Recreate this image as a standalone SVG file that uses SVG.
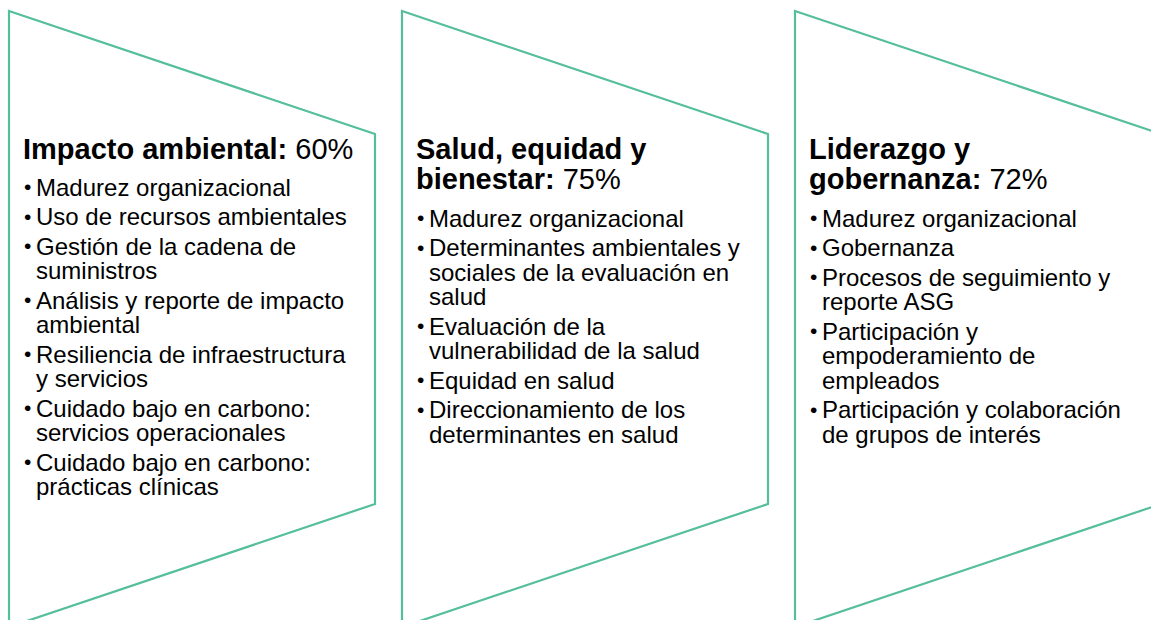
<svg xmlns="http://www.w3.org/2000/svg" width="1151" height="620" viewBox="0 0 1151 620">
<style>
.shape{fill:#ffffff;stroke:#55BE9A;stroke-width:2.2;stroke-linejoin:miter}
.t{font-family:"Liberation Sans",Arial,sans-serif;font-size:29px;fill:#000}
.b{font-weight:bold}
.i{font-family:"Liberation Sans",Arial,sans-serif;font-size:24px;fill:#000}
.d{font-family:"Liberation Sans",Arial,sans-serif;font-size:21px;fill:#000}
</style>
<rect width="1151" height="620" fill="#ffffff"/>
<g id="node-impacto">
<polygon class="shape" points="9,11 375,134 375,504 9,627"/>
<text class="t" x="23" y="158.5"><tspan class="b">Impacto ambiental:</tspan> 60%</text>
<g class="d"><text x="24" y="194">•</text><text x="24" y="223.5">•</text><text x="24" y="253">•</text><text x="24" y="307">•</text><text x="24" y="361">•</text><text x="24" y="415">•</text><text x="24" y="469">•</text></g>
<g class="i">
<text x="36" y="195.5">Madurez organizacional</text>
<text x="36" y="225">Uso de recursos ambientales</text>
<text x="36" y="254.5">Gestión de la cadena de</text>
<text x="36" y="279">suministros</text>
<text x="36" y="308.5">Análisis y reporte de impacto</text>
<text x="36" y="333">ambiental</text>
<text x="36" y="362.5">Resiliencia de infraestructura</text>
<text x="36" y="387">y servicios</text>
<text x="36" y="416.5">Cuidado bajo en carbono:</text>
<text x="36" y="441">servicios operacionales</text>
<text x="36" y="470.5">Cuidado bajo en carbono:</text>
<text x="36" y="495">prácticas clínicas</text>
</g>
</g>
<g id="node-salud">
<polygon class="shape" points="402,11 768,134 768,504 402,627"/>
<text class="t b" x="416" y="158.5">Salud, equidad y</text>
<text class="t" x="416" y="188.5"><tspan class="b">bienestar:</tspan> 75%</text>
<g class="d"><text x="417" y="225">•</text><text x="417" y="254.5">•</text><text x="417" y="333">•</text><text x="417" y="387">•</text><text x="417" y="416.5">•</text></g>
<g class="i">
<text x="429" y="226.5">Madurez organizacional</text>
<text x="429" y="256">Determinantes ambientales y</text>
<text x="429" y="280.5">sociales de la evaluación en</text>
<text x="429" y="305">salud</text>
<text x="429" y="334.5">Evaluación de la</text>
<text x="429" y="359">vulnerabilidad de la salud</text>
<text x="429" y="388.5">Equidad en salud</text>
<text x="429" y="418">Direccionamiento de los</text>
<text x="429" y="442.5">determinantes en salud</text>
</g>
</g>
<g id="node-liderazgo">
<polygon class="shape" points="795,11 1161,134 1161,504 795,627"/>
<text class="t b" x="809" y="158.5">Liderazgo y</text>
<text class="t" x="809" y="188.5"><tspan class="b">gobernanza:</tspan> 72%</text>
<g class="d"><text x="810" y="225">•</text><text x="810" y="254.5">•</text><text x="810" y="284">•</text><text x="810" y="338">•</text><text x="810" y="416.5">•</text></g>
<g class="i">
<text x="822" y="226.5">Madurez organizacional</text>
<text x="822" y="256">Gobernanza</text>
<text x="822" y="285.5">Procesos de seguimiento y</text>
<text x="822" y="310">reporte ASG</text>
<text x="822" y="339.5">Participación y</text>
<text x="822" y="364">empoderamiento de</text>
<text x="822" y="388.5">empleados</text>
<text x="822" y="418">Participación y colaboración</text>
<text x="822" y="442.5">de grupos de interés</text>
</g>
</g>
<g id="connectors"></g>
</svg>
